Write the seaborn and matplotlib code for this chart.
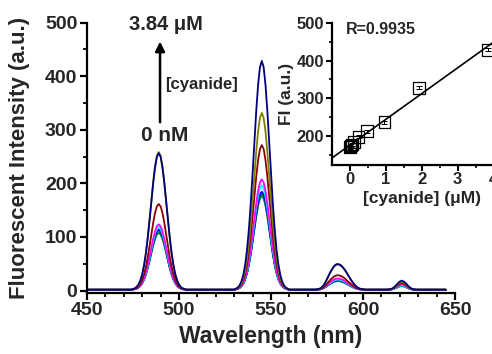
import numpy as np
import pandas as pd
import matplotlib
matplotlib.use("Agg")
import matplotlib.pyplot as plt
import seaborn as sns

# ---------------- data ----------------
series_names = ["teal", "green", "blue", "cyan", "magenta", "darkred", "olive", "navy"]
series_colors = ["#008080", "#008000", "#0000FF", "#00FFFF", "#FF00FF", "#8B0000", "#808000", "#000080"]

# band peak heights (a.u.)
amp_489 = [106, 108, 112, 117, 122, 160, 257, 255]
amp_545 = [175, 178, 183, 195, 206, 270, 330, 427]
amp_586 = [16, 17, 18, 19, 21, 27, 47, 48]
amp_621 = [7, 7, 8, 8, 10, 12, 15, 17]
baseline = 1.5

# normalised band profiles (1 nm steps)
sharp_offsets = list(range(-14, 15))
sharp_profile = [0.005, 0.01, 0.02, 0.038, 0.067, 0.112, 0.177, 0.266, 0.378, 0.508, 0.649, 0.784,
                 0.897, 0.973, 1.0, 0.973, 0.897, 0.784, 0.649, 0.508, 0.378, 0.266, 0.177, 0.112,
                 0.067, 0.038, 0.02, 0.01, 0.005]
broad_offsets = list(range(-11, 16))
broad_profile = [0.01, 0.03, 0.06, 0.12, 0.22, 0.35, 0.5, 0.65, 0.78, 0.89, 0.97, 1.0, 0.99,
                 0.95, 0.88, 0.79, 0.68, 0.56, 0.44, 0.33, 0.23, 0.15, 0.09, 0.05, 0.03, 0.015, 0.005]
small_offsets = list(range(-7, 8))
small_profile = [0.02, 0.06, 0.15, 0.3, 0.5, 0.72, 0.9, 1.0, 0.93, 0.76, 0.54, 0.33, 0.17, 0.07, 0.02]

wavelengths = np.arange(450, 646)

# inset data
conc_uM = [0, 0.015, 0.03, 0.06, 0.12, 0.24, 0.48, 0.96, 1.92, 3.84]
fi_vals = [171, 173, 175, 178, 185, 198, 213, 237, 328, 428]
fi_err = [4, 4, 4, 4, 4, 4, 4, 4, 4, 4]

# ---------------- build spectra ----------------
def band(center, offsets, profile):
    arr = np.zeros(len(wavelengths))
    for o, p in zip(offsets, profile):
        idx = center + o - 450
        if 0 <= idx < len(arr):
            arr[idx] = p
    return arr

b489 = band(489, sharp_offsets, sharp_profile)
b545 = band(545, sharp_offsets, sharp_profile)
b586 = band(586, broad_offsets, broad_profile)
b621 = band(621, small_offsets, small_profile)

rows = []
for i, name in enumerate(series_names):
    y = baseline + amp_489[i] * b489 + amp_545[i] * b545 + amp_586[i] * b586 + amp_621[i] * b621
    rows.append(pd.DataFrame({"wl": wavelengths, "fi": y, "series": name}))
df = pd.concat(rows, ignore_index=True)
dfi = pd.DataFrame({"c": conc_uM, "fi": fi_vals})

# ---------------- plot ----------------
sns.set_theme(style="ticks")
plt.rcParams["font.family"] = ["Liberation Sans", "DejaVu Sans"]
plt.rcParams["font.weight"] = "bold"
plt.rcParams["axes.labelweight"] = "bold"

fig = plt.figure(figsize=(4.92, 3.54), dpi=100)
ax = fig.add_axes([0.1768, 0.1732, 0.748, 0.7627])

sns.lineplot(data=df, x="wl", y="fi", hue="series", palette=dict(zip(series_names, series_colors)),
             hue_order=series_names, linewidth=1.3, legend=False, ax=ax, estimator=None)

ax.set_xlim(450, 650)
ax.set_ylim(-4, 500)
ax.set_xticks([450, 500, 550, 600, 650])
ax.set_xticks(np.arange(450, 651, 10), minor=True)
ax.set_yticks([0, 100, 200, 300, 400, 500])
ax.set_yticks(np.arange(0, 501, 50), minor=True)
for s in ["top", "right"]:
    ax.spines[s].set_visible(False)
for s in ["left", "bottom"]:
    ax.spines[s].set_linewidth(1.6)
    ax.spines[s].set_color("black")
ax.tick_params(which="major", length=5, width=1.6, labelsize=14, pad=2, color="black")
ax.tick_params(which="minor", length=3, width=1.3, color="black")
for lab in ax.get_xticklabels() + ax.get_yticklabels():
    lab.set_fontweight("bold")
ax.set_xlabel("Wavelength (nm)", fontsize=16.5, fontweight="bold", labelpad=4)
ax.set_ylabel("Fluorescent Intensity (a.u.)", fontsize=16, fontweight="bold", labelpad=11)

ax.text(493, 496, "3.84 \u03bcM", fontsize=14.5, fontweight="bold", ha="center", va="center")
ax.text(492, 290, "0 nM", fontsize=15, fontweight="bold", ha="center", va="center")
ax.annotate("", xy=(489.7, 470), xytext=(489.7, 309),
            arrowprops=dict(arrowstyle="-|>", color="black", lw=1.8, mutation_scale=14))
ax.text(492.5, 384, "[cyanide]", fontsize=12, fontweight="bold", ha="left", va="center")

# inset
axi = fig.add_axes([0.6748, 0.5353, 0.365, 0.4006])
axi.patch.set_alpha(0)
axi.set_xlim(-0.5, 4.5)
axi.set_ylim(125, 500)
sns.regplot(data=dfi, x="c", y="fi", scatter=False, ci=None, truncate=False,
            line_kws=dict(color="black", lw=1.2), ax=axi)
axi.errorbar(conc_uM, fi_vals, yerr=fi_err, fmt="none", ecolor="black", elinewidth=0.7,
             capsize=2.5, capthick=0.7)
sns.scatterplot(data=dfi, x="c", y="fi", marker="s", s=70, facecolor="none",
                edgecolor="black", linewidth=0.9, ax=axi, zorder=5)
axi.set_xlim(-0.5, 4.5)
axi.set_ylim(125, 500)
axi.set_xticks([0, 1, 2, 3, 4])
axi.set_xticks([0.5, 1.5, 2.5, 3.5, 4.5], minor=True)
axi.set_yticks([200, 300, 400, 500])
axi.set_yticks([150, 250, 350, 450], minor=True)
for s in ["top", "right"]:
    axi.spines[s].set_visible(False)
for s in ["left", "bottom"]:
    axi.spines[s].set_linewidth(1.6)
    axi.spines[s].set_color("black")
axi.tick_params(which="major", length=4, width=1.5, labelsize=12, pad=1.5, color="black")
axi.tick_params(which="minor", length=2.5, width=1.2, color="black")
for lab in axi.get_xticklabels() + axi.get_yticklabels():
    lab.set_fontweight("bold")
axi.set_xlabel("[cyanide] (\u03bcM)", fontsize=12.5, fontweight="bold", labelpad=3)
axi.set_ylabel("FI (a.u.)", fontsize=12.5, fontweight="bold", labelpad=2)
axi.text(-0.1, 482, "R=0.9935", fontsize=11.5, fontweight="bold", ha="left", va="center")

fig.savefig("out.png", dpi=100)
